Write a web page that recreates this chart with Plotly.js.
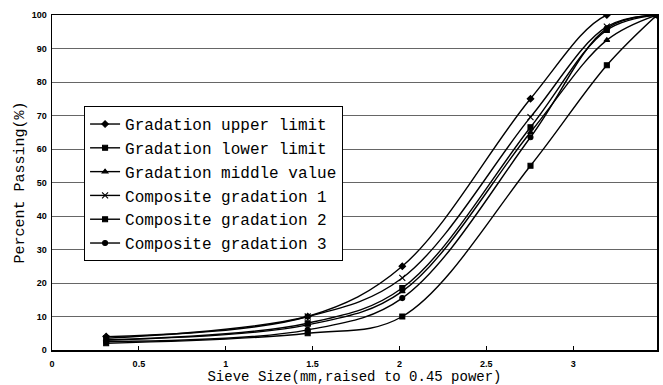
<!DOCTYPE html>
<html><head><meta charset="utf-8">
<script src="https://cdn.plot.ly/plotly-3.0.1.min.js"></script>
<style>html,body{margin:0;padding:0;background:#fff;}#chart{width:663px;height:385px;}</style>
</head><body><div id="chart"></div>
<script>
// Sieve sizes (mm); x axis shows size raised to 0.45 power
var sieveSizes = [0.075, 2.36, 4.75, 9.5, 13.2, 16];
var upperLimit  = [4, 10, 25, 75, 100, 100];
var lowerLimit  = [2, 5, 10, 55, 85, 100];
var middleValue = [3, 7.5, 17.5, 65, 92.5, 100];
var composite1  = [3.5, 10, 21.5, 69.5, 96.5, 100];
var composite2  = [3, 8, 18.5, 66.5, 95.5, 100];
var composite3  = [2.5, 6, 15.5, 63.5, 96, 100];
var seriesNames = ["Gradation upper limit","Gradation lower limit","Gradation middle value",
                   "Composite gradation 1","Composite gradation 2","Composite gradation 3"];
var xTickVals = [0, 0.5, 1, 1.5, 2, 2.5, 3];
var xTickText = ["0", "0.5", "1", "1.5", "2", "2.5", "3"];

var xs = sieveSizes.map(function(s){ return Math.pow(s, 0.45); });
var series = [upperLimit, lowerLimit, middleValue, composite1, composite2, composite3];
var symbols = ["diamond", "square", "triangle-up", "x-thin-open", "square", "circle"];
var sizes = [5, 5, 5, 6, 5, 5];

var traces = series.map(function(ys, i){
  return {
    x: xs, y: ys, name: seriesNames[i], type: "scatter", mode: "lines+markers",
    line: {color: "#000", width: 1.4, shape: "spline", smoothing: 1},
    marker: {symbol: symbols[i], size: sizes[i], color: "#000", line: {color: "#000", width: 1.1}},
    cliponaxis: true
  };
});

var layout = {
  width: 663, height: 385,
  margin: {l: 52, r: 6, t: 15, b: 35},
  paper_bgcolor: "#fff", plot_bgcolor: "#fff",
  showlegend: true,
  legend: {
    x: 0.053, y: 0.728, xanchor: "left", yanchor: "top",
    bgcolor: "#fff", bordercolor: "#000", borderwidth: 1,
    font: {family: "Liberation Mono, monospace", size: 16, color: "#000"},
    itemwidth: 30
  },
  xaxis: {
    range: [0, Math.pow(16, 0.45)],
    tickvals: xTickVals, ticktext: xTickText,
    ticks: "inside", ticklen: 4, tickcolor: "#000",
    ticklabelstandoff: 5,
    showgrid: false, zeroline: false,
    showline: true, linecolor: "#000", linewidth: 1.5, mirror: true,
    tickfont: {family: "Liberation Sans, Arial", size: 9, color: "#000", weight: "bold"},
    title: {text: "Sieve Size(mm,raised to 0.45 power)", standoff: 3,
            font: {family: "Liberation Mono, monospace", size: 14, color: "#000"}}
  },
  yaxis: {
    range: [0, 100], dtick: 10,
    ticks: "", showgrid: true, gridcolor: "#666", gridwidth: 1,
    zeroline: false,
    showline: true, linecolor: "#000", linewidth: 1.5, mirror: true,
    ticklabelstandoff: 2,
    tickfont: {family: "Liberation Sans, Arial", size: 9, color: "#000", weight: "bold"},
    title: {text: "Percent Passing(%)", standoff: 3,
            font: {family: "Liberation Mono, monospace", size: 15, color: "#000"}}
  }
};

Plotly.newPlot("chart", traces, layout, {displayModeBar: false, staticPlot: true});
</script>
</body></html>
